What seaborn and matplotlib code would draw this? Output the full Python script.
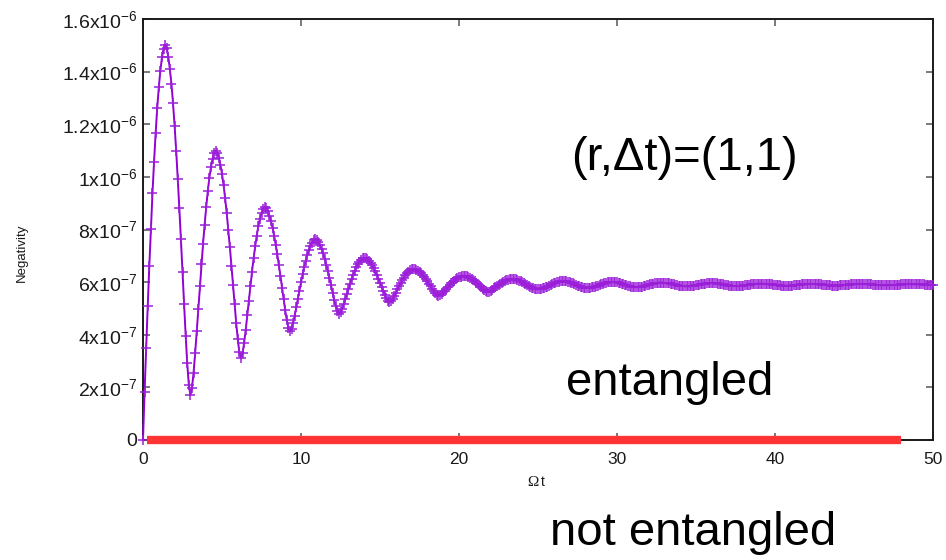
import numpy as np
import pandas as pd
import matplotlib
matplotlib.use('Agg')
import matplotlib.pyplot as plt
import seaborn as sns

# sampling step in Omega t
dt = 0.1
# negativity in units of 1e-7, one line per half oscillation
negativity_e7 = [
    0.00, 1.84, 3.49, 5.11, 6.62, 8.02, 9.38, 10.58, 11.66, 12.61, 13.41, 14.04, 14.55, 14.86, 15.02,
    14.89, 14.57, 14.10, 13.54, 12.80, 11.94, 11.00, 9.93, 8.81, 7.63, 6.40, 5.17, 3.97, 2.92, 2.09, 1.71,
    1.98, 2.56, 3.29, 4.13, 4.98, 5.84, 6.67, 7.45, 8.19, 8.85, 9.45, 9.97, 10.36, 10.68, 10.91, 11.00,
    10.92, 10.73, 10.46, 10.12, 9.68, 9.18, 8.61, 7.98, 7.32, 6.62, 5.88, 5.15, 4.44, 3.82, 3.33, 3.10,
    3.29, 3.69, 4.18, 4.74, 5.30, 5.87, 6.40, 6.90, 7.36, 7.77, 8.13, 8.41, 8.63, 8.78, 8.85,
    8.80, 8.69, 8.52, 8.33, 8.06, 7.76, 7.42, 7.05, 6.65, 6.23, 5.79, 5.36, 4.93, 4.56, 4.27, 4.13,
    4.23, 4.45, 4.72, 5.04, 5.36, 5.68, 5.99, 6.29, 6.57, 6.81, 7.04, 7.23, 7.38, 7.50, 7.59, 7.62,
    7.59, 7.51, 7.40, 7.26, 7.09, 6.89, 6.66, 6.42, 6.16, 5.88, 5.60, 5.33, 5.09, 4.89, 4.80,
    4.86, 4.99, 5.16, 5.35, 5.55, 5.74, 5.93, 6.11, 6.28, 6.43, 6.57, 6.69, 6.77, 6.85, 6.90, 6.92,
    6.90, 6.86, 6.80, 6.73, 6.64, 6.53, 6.41, 6.27, 6.13, 5.98, 5.83, 5.67, 5.52, 5.38, 5.28, 5.23,
    5.27, 5.36, 5.47, 5.59, 5.72, 5.84, 5.96, 6.07, 6.17, 6.26, 6.34, 6.40, 6.45, 6.49, 6.50,
    6.49, 6.47, 6.43, 6.39, 6.33, 6.26, 6.19, 6.11, 6.03, 5.93, 5.84, 5.75, 5.65, 5.57, 5.51, 5.48,
    5.50, 5.55, 5.61, 5.68, 5.75, 5.82, 5.89, 5.95, 6.01, 6.06, 6.11, 6.16, 6.19, 6.21, 6.23, 6.24,
    6.23, 6.22, 6.19, 6.16, 6.13, 6.08, 6.03, 5.98, 5.92, 5.86, 5.80, 5.75, 5.69, 5.65, 5.63,
    5.64, 5.68, 5.71, 5.76, 5.80, 5.85, 5.89, 5.93, 5.97, 6.01, 6.04, 6.07, 6.09, 6.10, 6.12, 6.12,
    6.12, 6.11, 6.09, 6.06, 6.03, 6.00, 5.96, 5.93, 5.89, 5.85, 5.82, 5.79, 5.76, 5.74, 5.73, 5.73,
    5.73, 5.74, 5.76, 5.78, 5.80, 5.83, 5.86, 5.89, 5.92, 5.95, 5.98, 6.00, 6.02, 6.04, 6.05, 6.05,
    6.05, 6.04, 6.02, 6.01, 5.98, 5.96, 5.93, 5.90, 5.87, 5.85, 5.83, 5.81, 5.79, 5.78, 5.78,
    5.78, 5.79, 5.80, 5.81, 5.83, 5.85, 5.87, 5.90, 5.92, 5.94, 5.96, 5.98, 5.99, 6.00, 6.01, 6.01,
    6.01, 6.00, 5.99, 5.98, 5.96, 5.94, 5.92, 5.90, 5.88, 5.86, 5.84, 5.83, 5.82, 5.81, 5.81,
    5.81, 5.82, 5.82, 5.83, 5.85, 5.86, 5.88, 5.90, 5.91, 5.93, 5.94, 5.95, 5.97, 5.97, 5.98, 5.98,
    5.98, 5.97, 5.97, 5.96, 5.95, 5.94, 5.92, 5.91, 5.90, 5.88, 5.87, 5.86, 5.85, 5.85, 5.84, 5.84,
    5.84, 5.84, 5.85, 5.86, 5.87, 5.88, 5.89, 5.90, 5.91, 5.92, 5.93, 5.94, 5.95, 5.95, 5.96, 5.96,
    5.96, 5.96, 5.95, 5.94, 5.93, 5.92, 5.91, 5.90, 5.89, 5.88, 5.87, 5.86, 5.86, 5.85, 5.85,
    5.85, 5.85, 5.86, 5.86, 5.87, 5.88, 5.89, 5.90, 5.90, 5.91, 5.92, 5.93, 5.93, 5.94, 5.94, 5.94,
    5.94, 5.94, 5.93, 5.93, 5.92, 5.92, 5.91, 5.90, 5.89, 5.89, 5.88, 5.88, 5.87, 5.86, 5.86, 5.86,
    5.86, 5.86, 5.87, 5.87, 5.88, 5.88, 5.89, 5.90, 5.90, 5.91, 5.91, 5.92, 5.92, 5.93, 5.93, 5.93,
    5.93, 5.93, 5.92, 5.92, 5.91, 5.91, 5.90, 5.90, 5.89, 5.89, 5.88, 5.88, 5.87, 5.87, 5.87,
    5.87, 5.87, 5.88, 5.88, 5.88, 5.89, 5.89, 5.90, 5.90, 5.91, 5.91, 5.92, 5.92, 5.92, 5.93, 5.93,
    5.93, 5.93, 5.92, 5.92, 5.92, 5.91, 5.91, 5.90, 5.90, 5.90, 5.89, 5.89, 5.88, 5.88, 5.88, 5.88,
    5.88, 5.88, 5.88, 5.89, 5.89, 5.89, 5.90, 5.90, 5.90, 5.91, 5.91, 5.91, 5.92, 5.92, 5.92,
    5.92, 5.92, 5.92, 5.92, 5.91, 5.91, 5.91, 5.91, 5.91, 5.90, 5.90, 5.90, 5.90, 5.90, 5.90,
]
unit = 1e-7

# red "not entangled / entangled" boundary at zero
boundary_x = [0.25, 48.0]
boundary_y = [0.0, 0.0]

xticks = [0, 10, 20, 30, 40, 50]
yticks = [0, 2e-7, 4e-7, 6e-7, 8e-7, 1e-6, 1.2e-6, 1.4e-6, 1.6e-6]
ytick_labels = ['0', '2x10$^{-7}$', '4x10$^{-7}$', '6x10$^{-7}$', '8x10$^{-7}$',
                '1x10$^{-6}$', '1.2x10$^{-6}$', '1.4x10$^{-6}$', '1.6x10$^{-6}$']

df = pd.DataFrame({
    't': np.round(np.arange(len(negativity_e7)) * dt, 1),
    'N': np.array(negativity_e7) * unit,
})

sns.set_style('white')
plt.rcParams['font.family'] = ['Liberation Sans', 'DejaVu Sans']
plt.rcParams['mathtext.fontset'] = 'custom'
plt.rcParams['mathtext.rm'] = 'Liberation Sans'
plt.rcParams['mathtext.default'] = 'rm'

fig = plt.figure(figsize=(9.46, 5.6), dpi=100)
ax = fig.add_axes([143 / 946, 1 - 440 / 560, 790 / 946, 421 / 560])

sns.lineplot(data=df, x='t', y='N', ax=ax, color='#9400d3', linewidth=1.4,
             marker='+', markersize=6.5, markeredgewidth=1.1, markeredgecolor='#9b1fd8',
             estimator=None, clip_on=False, zorder=3)

ax.plot(boundary_x, boundary_y, color='#ff3535', linewidth=6, solid_capstyle='butt',
        clip_on=False, zorder=5)

ax.set_xlim(0, 50)
ax.set_ylim(0, 1.6e-6)
ax.set_xticks(xticks)
ax.set_xticklabels([str(v) for v in xticks])
ax.set_yticks(yticks)
ax.set_yticklabels(ytick_labels)

for s in ax.spines.values():
    s.set_visible(True)
    s.set_color('#1a1a1a')
    s.set_linewidth(1.4)

ax.tick_params(direction='in', length=5, width=1.1, color='#555555',
               top=True, right=True, bottom=True, left=True)
ax.tick_params(axis='x', labelsize=12.5, pad=9, labelcolor='#1a1a1a')
ax.tick_params(axis='y', labelsize=14, pad=4, labelcolor='#1a1a1a')

ax.set_xlabel('')
ax.set_ylabel('Negativity', fontsize=9.5, color='#1a1a1a')
ax.yaxis.set_label_coords(-0.146, 0.445)

# x label: serif Omega followed by a sans t
fig.text(538 / 946, 1 - 482 / 560, 'Ω', family=['Liberation Serif'], fontsize=11,
         ha='right', va='center', color='#1a1a1a')
fig.text(541 / 946, 1 - 482 / 560, 't', fontsize=10, ha='left', va='center', color='#1a1a1a')

fig.text(571 / 946, 1 - 170 / 560, '(r,Δt)=(1,1)', fontsize=34, ha='left', va='baseline', color='black')
fig.text(566 / 946, 1 - 395 / 560, 'entangled', fontsize=34, ha='left', va='baseline', color='black')
fig.text(550 / 946, 1 - 545 / 560, 'not entangled', fontsize=34, ha='left', va='baseline', color='black')

fig.savefig('out.png', dpi=100)
